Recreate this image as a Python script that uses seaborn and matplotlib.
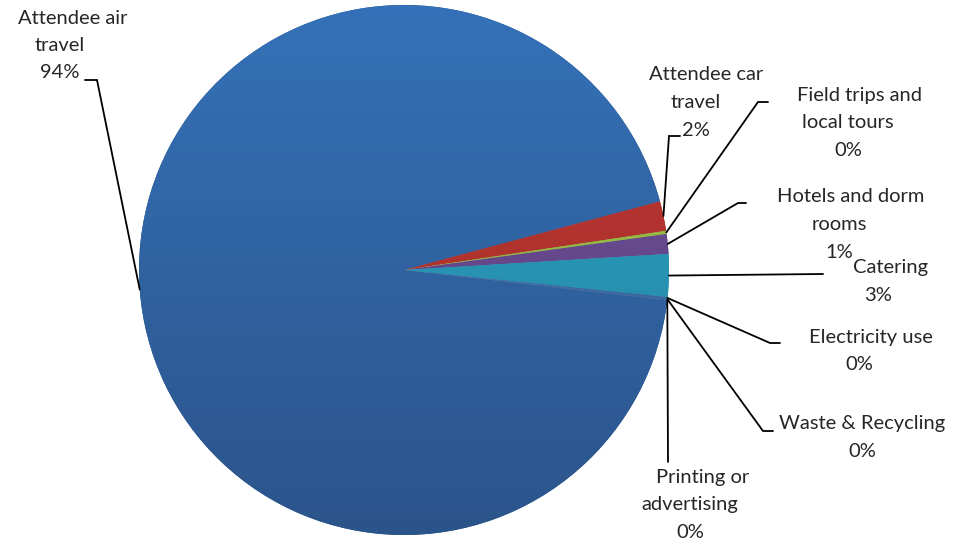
import numpy as np
import matplotlib
matplotlib.use("Agg")
import matplotlib.pyplot as plt
from matplotlib.colors import to_rgb
import seaborn as sns

# Share of event emissions by source (percent)
categories = [
    "Attendee air\ntravel",
    "Attendee car\ntravel",
    "Field trips and\nlocal tours",
    "Hotels and dorm\nrooms",
    "Catering",
    "Electricity use",
    "Waste & Recycling",
    "Printing or\nadvertising",
]
shares = [94.0, 1.8, 0.2, 1.2, 2.6, 0.1, 0.05, 0.05]

# Slice colours: (top shade, bottom shade) for the vertical gradient
top_colors = ["#3571B8", "#BA3631", "#9DC148", "#6C4E94", "#2CA6C8", "#4A7EBB", "#4A7EBB", "#4A7EBB"]
bottom_colors = ["#2B548A", "#A52E2A", "#8AAD3E", "#5E4383", "#237F9C", "#2B548A", "#2B548A", "#2B548A"]

# Label layout in pixel space (y measured from the top edge)
label_x = [60, 696, 848, 839, 878, 859, 862, 690]
label_first_x = [73, 706, 860, 851, 891, 871, 862, 703]
label_top_y = [18, 75, 95, 197, 268, 337, 424, 477]
elbow_pts = [(97, 80), (669, 136), (758, 102), (738, 203), (823, 274), (770, 343), (763, 431), (668, 462)]
end_pts = [(85, 80), (680, 136), (768, 102), (746, 203), (823, 274), (780, 343), (773, 431), (668, 462)]

W, H = 969, 541
CX, CY, R = 404, 270, 265
LINE_STEP = 27.5

sns.set_theme(style="white")
plt.rcParams["font.family"] = ["Lato", "DejaVu Sans"]

fig = plt.figure(figsize=(W / 100, H / 100), dpi=100)
ax = fig.add_axes([0, 0, 1, 1])

wedges, _ = ax.pie(
    shares,
    center=(CX, H - CY),
    radius=R,
    startangle=-6.6,
    counterclock=False,
    colors=bottom_colors,
    wedgeprops=dict(linewidth=0),
)

# Vertical gradient inside each slice
n = 256
t = np.linspace(0, 1, n)[:, None, None]
for w, c0, c1 in zip(wedges, top_colors, bottom_colors):
    a = np.array(to_rgb(c0))[None, None, :]
    b = np.array(to_rgb(c1))[None, None, :]
    grad = a * (1 - t) + b * t
    im = ax.imshow(
        grad,
        extent=(CX - R, CX + R, H - CY - R, H - CY + R),
        origin="upper",
        aspect="auto",
        interpolation="bilinear",
        zorder=1.5,
    )
    im.set_clip_path(w)

# Leader lines and labels
for i, w in enumerate(wedges):
    mid = np.deg2rad((w.theta1 + w.theta2) / 2)
    sx = CX + R * np.cos(mid)
    sy = (H - CY) + R * np.sin(mid)
    ex, ey = elbow_pts[i]
    fx, fy = end_pts[i]
    ax.plot([sx, ex, fx], [sy, H - ey, H - fy], color="black", lw=1.3,
            solid_joinstyle="miter", zorder=3)

    pct = f"{round(shares[i]):.0f}%"
    lines = categories[i].split("\n") + [pct]
    for j, line in enumerate(lines):
        x = label_first_x[i] if j == 0 else label_x[i]
        y = label_top_y[i] + j * LINE_STEP
        ax.text(x, H - y, line, ha="center", va="center", fontsize=14.5,
                color="#262626", zorder=4)

ax.set_xlim(0, W)
ax.set_ylim(0, H)
ax.set_aspect("equal")
ax.axis("off")

fig.savefig("out.png", dpi=100, facecolor="white")
